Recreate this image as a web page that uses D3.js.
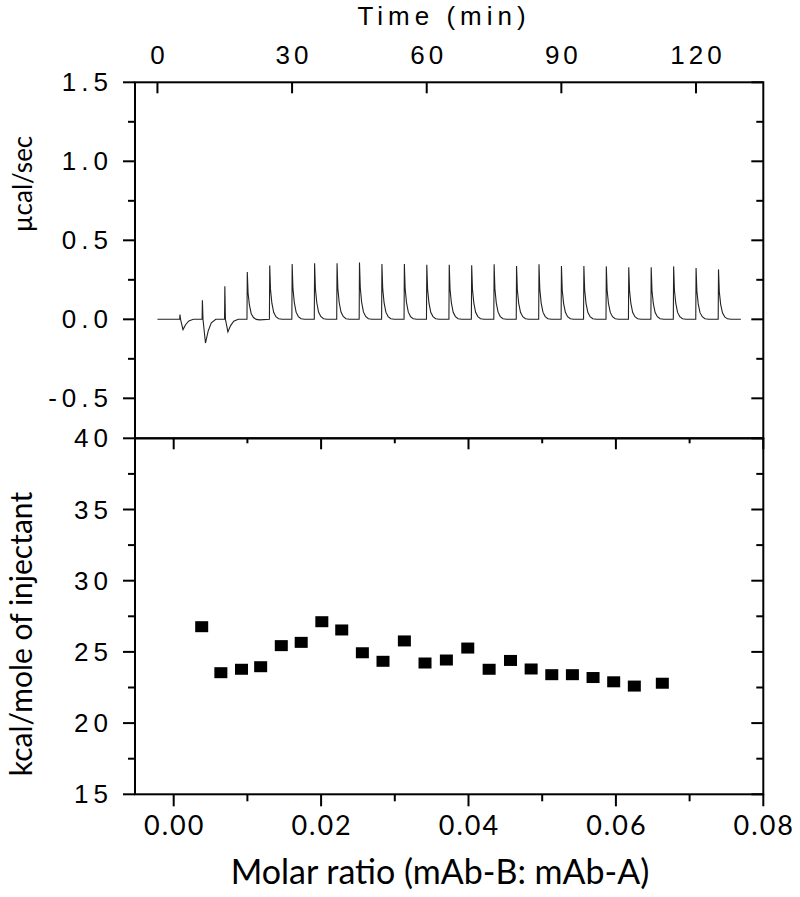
<!DOCTYPE html>
<html><head><meta charset="utf-8">
<script src="https://cdn.jsdelivr.net/npm/d3@7"></script>
<style>body{margin:0;background:#fff}svg{display:block}</style>
</head><body>
<svg id="c" width="800" height="897"></svg>
<script>
// ---- data ----
const injTimes = [5,10,15,20,25,30,35,40,45,50,55,60,65,70,75,80,85,90,95,100,105,110,115,120,125];
const peakUp   = [0.03,0.12,0.21,0.30,0.34,0.35,0.355,0.355,0.36,0.35,0.35,0.345,0.345,0.342,0.348,0.338,0.348,0.338,0.338,0.335,0.329,0.329,0.335,0.325,0.316];
const peakDown = [-0.065,-0.15,-0.08,-0.012,0,0,0,0,0,0,0,0,0,0,0,0,0,0,0,0,0,0,0,0,0];
const traceStart = 0, traceEnd = 130;
const ratio = [0.0038,0.0064,0.0092,0.0118,0.0146,0.0173,0.0201,0.0228,0.0256,0.0284,0.0313,0.0341,0.0370,0.0399,0.0428,0.0457,0.0485,0.0513,0.0541,0.0569,0.0597,0.0625,0.0663];
const heat  = [26.77,23.54,23.78,23.96,25.44,25.67,27.12,26.54,24.94,24.34,25.77,24.22,24.43,25.27,23.78,24.4,23.8,23.4,23.4,23.2,22.9,22.6,22.8];
const timeTicks = [0,30,60,90,120];
const topYTicks = [1.5,1.0,0.5,0.0,-0.5];
const topYLabels = ['1.5','1.0','0.5','0.0','-0.5'];
const botYTicks = [40,35,30,25,20,15];
const ratioTicks = [0.00,0.02,0.04,0.06,0.08];
const ratioLabels = ['0.00','0.02','0.04','0.06','0.08'];

// ---- layout ----
const L=135, R=763.3, T=82.3, M=438.3, B=794.3;
const svg = d3.select('#c');
const xT = d3.scaleLinear().domain([-5,135]).range([L,R]);
const yT = d3.scaleLinear().domain([-0.753,1.5]).range([M,T]);
const xR = d3.scaleLinear().domain([-0.00525,0.08]).range([L,R]);
const yB = d3.scaleLinear().domain([15,40]).range([B,M]);

// thermogram trace built from injection peaks
const pts = [[traceStart,0]];
const shapeUp = [[-0.05,0],[0.02,1],[0.2,0.55],[0.5,0.3],[0.9,0.13],[1.4,0.05],[2.0,0.01],[2.8,0]];
injTimes.forEach((t,i)=>{
  const H = peakUp[i], D = peakDown[i];
  if (D < -0.02) {
    pts.push([t-0.05,0],[t+0.02,H],[t+0.15,0],[t+0.7,D],[t+1.3,D*0.5],[t+2,D*0.15],[t+3,0]);
  } else {
    shapeUp.forEach(([dt,f])=>pts.push([t+dt,H*f + (dt>0.5? D*0.3:0)]));
  }
});
pts.push([traceEnd,0]);
svg.append('path').datum(pts)
  .attr('d', d3.line().x(d=>xT(d[0])).y(d=>yT(d[1])))
  .attr('fill','none').attr('stroke','#222').attr('stroke-width',1.1);

// points
svg.append('g').selectAll('rect').data(ratio).join('rect')
  .attr('x',(d)=>xR(d)-6.5).attr('y',(d,i)=>yB(heat[i])-5.5)
  .attr('width',13).attr('height',11).attr('fill','#000');

// frames
const fr = svg.append('g').attr('fill','none').attr('stroke','#000').attr('stroke-width',2);
fr.append('rect').attr('x',L).attr('y',T).attr('width',R-L).attr('height',M-T);
fr.append('rect').attr('x',L).attr('y',M).attr('width',R-L).attr('height',B-M);

// ticks helper
function ticks(g, list, fn){ list.forEach(v=>{ const [x1,y1,x2,y2]=fn(v); g.append('line').attr('x1',x1).attr('y1',y1).attr('x2',x2).attr('y2',y2);}); }
const tg = svg.append('g').attr('stroke','#000').attr('stroke-width',2);
ticks(tg, timeTicks, v=>[xT(v),T,xT(v),T+11]);
const topMajor = [1.5,1.0,0.5,0.0,-0.5], topMinor=[1.25,0.75,0.25,-0.25];
ticks(tg, topMajor, v=>[L-12,yT(v),L,yT(v)]);
ticks(tg, topMinor, v=>[L-7,yT(v),L,yT(v)]);
ticks(tg, topMajor, v=>[R,yT(v),R-12,yT(v)]);
ticks(tg, topMinor, v=>[R,yT(v),R-7,yT(v)]);
const bMajor=[40,35,30,25,20,15], bMinor=[37.5,32.5,27.5,22.5,17.5];
ticks(tg, bMajor, v=>[L-12,yB(v),L,yB(v)]);
ticks(tg, bMinor, v=>[L-7,yB(v),L,yB(v)]);
ticks(tg, bMajor, v=>[R,yB(v),R-12,yB(v)]);
ticks(tg, bMinor, v=>[R,yB(v),R-7,yB(v)]);
const rMajor=[0,0.02,0.04,0.06,0.08], rMinor=[0.01,0.03,0.05,0.07];
ticks(tg, rMajor, v=>[xR(v),B,xR(v),B+12]);
ticks(tg, rMinor, v=>[xR(v),B,xR(v),B+7]);
ticks(tg, rMajor, v=>[xR(v),M,xR(v),M+11]);
ticks(tg, rMinor, v=>[xR(v),M,xR(v),M+5]);

// labels
const arial = "'Liberation Sans', Arial, sans-serif", cal = "Lato, 'Open Sans', sans-serif";
function txt(x,y,s,opt){
  const t=svg.append('text').attr('x',x).attr('y',y).text(s)
   .attr('font-family',opt.f).attr('font-size',opt.s).attr('fill','#000')
   .attr('text-anchor',opt.a||'middle');
  if(opt.ls) t.attr('letter-spacing',opt.ls);
  if(opt.rot) t.attr('transform',`rotate(-90,${x},${y})`);
  return t;
}
timeTicks.forEach(v=>txt(xT(v)+2,64,String(v),{f:arial,s:26,ls:4}));
txt(444,25,'Time (min)',{f:arial,s:26,ls:5});
topYTicks.forEach((v,i)=>txt(108+5,yT(v)+9,topYLabels[i],{f:arial,s:26,ls:5,a:'end'}));
botYTicks.forEach(v=>txt(108+5,yB(v)+9,String(v),{f:arial,s:26,ls:5,a:'end'}));
ratioTicks.forEach((v,i)=>txt(xR(v)+1,835,ratioLabels[i],{f:cal,s:27,ls:2}));
txt(440,884,'Molar ratio (mAb-B: mAb-A)',{f:cal,s:34});
txt(32,184,'µcal/sec',{f:cal,s:26,rot:true});
txt(32,634,'kcal/mole of injectant',{f:cal,s:30,rot:true});
</script>
</body></html>
